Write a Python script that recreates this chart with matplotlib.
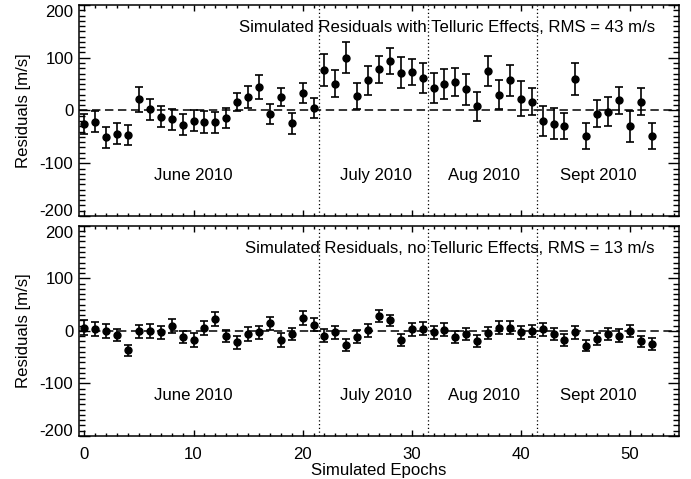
import numpy as np
import matplotlib
matplotlib.use('Agg')
import matplotlib.pyplot as plt
from matplotlib.ticker import MultipleLocator

plt.rcParams['font.family'] = ['Liberation Sans', 'DejaVu Sans']
plt.rcParams['axes.unicode_minus'] = False

# residuals with telluric contamination (m/s)
tell_res = [-26, -21, -51, -44, -46, 21, 2, -12, -17, -27, -19, -22, -22, -15, 16,
            25, 45, -6, 25, -24, 34, 4, 77, 51, 100, 28, 57, 78, 94, 72,
            73, 62, 43, 50, 54, 40, 8, 75, 30, 57, 22, 17, -20, -25, -29,
            60, -48, -6, -2, 19, -30, 17, -48]
tell_err = [19, 20, 20, 20, 19, 23, 20, 20, 20, 20, 20, 21, 20, 19, 17,
            21, 23, 19, 17, 20, 19, 19, 30, 26, 29, 25, 27, 25, 24, 29,
            25, 28, 29, 28, 27, 30, 27, 28, 28, 30, 33, 26, 28, 30, 25,
            30, 25, 25, 27, 26, 29, 25, 25]

# residuals without telluric contamination (m/s)
clean_res = [6, 4, 0, -8, -37, -1, 0, -3, 9, -12, -17, 6, 22, -10, -22,
             -6, -3, 14, -17, -6, 24, 12, -9, -3, -27, -11, 1, 28, 20, -17,
             3, 4, -3, 2, -12, -6, -19, -4, 6, 6, -3, 0, 3, -6, -17,
             -3, -28, -15, -6, -9, 0, -20, -25]
clean_err = [14, 13, 13, 12, 11, 13, 13, 13, 13, 12, 13, 13, 13, 12, 12,
             13, 13, 13, 13, 12, 13, 13, 12, 12, 11, 12, 12, 11, 11, 11,
             12, 12, 12, 12, 11, 11, 11, 12, 12, 12, 12, 12, 12, 11, 11,
             12, 11, 11, 12, 12, 12, 11, 11]

epochs = np.arange(len(tell_res))
month_breaks = [21.5, 31.5, 41.5]
month_names = ['June 2010', 'July 2010', 'Aug 2010', 'Sept 2010']
month_pos = [10, 26.7, 36.6, 47.1]
yticks = [-200, -100, 0, 100, 200]

panels = [
    (tell_res, tell_err, 'Simulated Residuals with Telluric Effects, RMS = 43 m/s'),
    (clean_res, clean_err, 'Simulated Residuals, no Telluric Effects, RMS = 13 m/s'),
]

fig = plt.figure(figsize=(6.91, 4.79), dpi=100)
ax_top = fig.add_axes([0.1143, 0.5491, 0.8683, 0.4405])
ax_bot = fig.add_axes([0.1143, 0.0898, 0.8683, 0.4390])

for ax, (res, err, label) in zip([ax_top, ax_bot], panels):
    ax.axhline(0, color='k', lw=1.1, dashes=(5.5, 3))
    for xb in month_breaks:
        ax.axvline(xb, color='k', lw=0.9, linestyle=(0, (1, 2)))
    ax.errorbar(epochs, res, yerr=err, fmt='o', color='k', ms=5,
                elinewidth=1.2, capsize=2.6, capthick=1.2)
    ax.text(52.3, 157, label, ha='right', va='center', fontsize=12.1)
    for name, xp in zip(month_names, month_pos):
        ax.text(xp, -123, name, ha='center', va='center', fontsize=12.1)

    ax.set_xlim(-0.5, 54.5)
    ax.set_ylim(-200, 200)
    ax.xaxis.set_major_locator(MultipleLocator(10))
    ax.xaxis.set_minor_locator(MultipleLocator(1))
    ax.set_yticks(yticks)
    ax.set_yticklabels([str(v) for v in yticks])
    ax.yaxis.set_minor_locator(MultipleLocator(10))
    ax.tick_params(axis='both', which='both', direction='in',
                   top=True, right=True, width=1.0, labelsize=12.1)
    ax.tick_params(axis='y', which='major', length=8, pad=4)
    ax.tick_params(axis='y', which='minor', length=4)
    ax.tick_params(axis='x', which='major', length=4, pad=7.8)
    ax.tick_params(axis='x', which='minor', length=2.2)
    # keep the end labels inside the panel height
    labels = ax.get_yticklabels()
    labels[0].set_va('baseline')
    labels[-1].set_va('top')
    for sp in ax.spines.values():
        sp.set_linewidth(1.1)
    ax.set_ylabel('Residuals [m/s]', fontsize=12.1, labelpad=6)

ax_top.tick_params(axis='x', labelbottom=False)
ax_bot.set_xlabel('Simulated Epochs', fontsize=12.1, labelpad=1)

fig.savefig('out.png', dpi=100)
